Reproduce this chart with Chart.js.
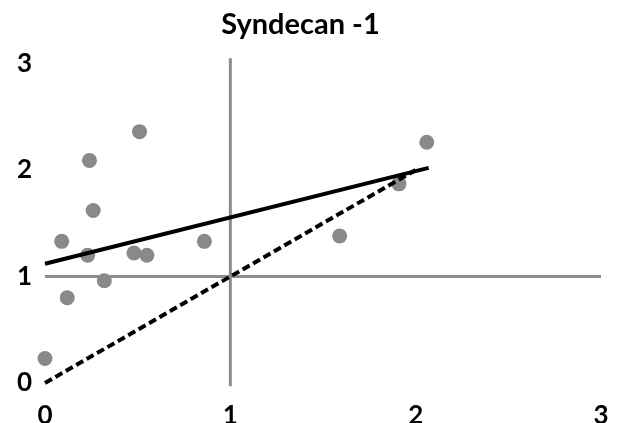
<!DOCTYPE html>
<html><head><meta charset="utf-8">
<script src="https://cdn.jsdelivr.net/npm/chart.js@4/dist/chart.umd.min.js"></script>
<style>html,body{margin:0;padding:0;background:#fff}#wrap{width:630px;height:423px}</style>
</head><body><div id="wrap"><canvas id="c"></canvas></div>
<script>
const title = "Syndecan -1";
const tickValues = [0, 1, 2, 3];
const pointsX = [0.00, 0.09, 0.12, 0.23, 0.24, 0.26, 0.32, 0.48, 0.51, 0.55, 0.86, 1.59, 1.91, 2.06];
const pointsY = [0.23, 1.33, 0.80, 1.20, 2.09, 1.62, 0.96, 1.22, 2.36, 1.20, 1.33, 1.38, 1.87, 2.26];
const fitX = [0.00, 2.07];
const fitY = [1.12, 2.02];
const identityX = [0.00, 2.00];
const identityY = [0.00, 2.00];
const vLineX = [1, 1];
const vLineY = [-0.03, 3.05];
const hLineX = [0, 3];
const hLineY = [1, 1];

const pts = (xs, ys) => xs.map((x, i) => ({x, y: ys[i]}));
const FONT = "Lato, 'Open Sans', sans-serif";

new Chart(document.getElementById('c'), {
  type: 'scatter',
  data: {
    datasets: [
      {data: pts(fitX, fitY), showLine: true, borderColor: '#000', borderWidth: 4, pointRadius: 0, clip: false},
      {data: pts(identityX, identityY), showLine: true, borderColor: '#000', borderWidth: 4, borderDash: [8, 4], pointRadius: 0, clip: false},
      {data: pts(pointsX, pointsY), backgroundColor: '#898989', borderColor: '#898989', pointRadius: 7.5, borderWidth: 0, clip: false},
      {data: pts(vLineX, vLineY), showLine: true, borderColor: '#8c8c8c', borderWidth: 3, pointRadius: 0, clip: false},
      {data: pts(hLineX, hLineY), showLine: true, borderColor: '#8c8c8c', borderWidth: 3, pointRadius: 0, clip: false}
    ]
  },
  options: {
    responsive: true, maintainAspectRatio: false, animation: false,
    layout: {padding: {left: 0, right: 29, top: 0, bottom: 0}},
    plugins: {
      legend: {display: false}, tooltip: {enabled: false},
      title: {display: true, text: title, color: '#000', font: {family: FONT, size: 29, weight: 'bold'}, padding: {top: 7, bottom: 21.7}}
    },
    scales: {
      x: {type: 'linear', min: 0, max: 3, grid: {display: false, drawTicks: false}, border: {display: false},
          afterFit: s => { s.height = 40; },
          ticks: {stepSize: 1, autoSkip: false, maxRotation: 0, padding: 17, color: '#000', font: {family: FONT, size: 26, weight: 'bold'},
                  callback: v => tickValues.includes(v) ? String(v) : ''}},
      y: {type: 'linear', min: 0, max: 3, grid: {display: false, drawTicks: false}, border: {display: false},
          afterFit: s => { s.width = 45; },
          ticks: {stepSize: 1, padding: 13, color: '#000', font: {family: FONT, size: 26, weight: 'bold'},
                  callback: v => tickValues.includes(v) ? String(v) : ''}}
    }
  }
});
</script></body></html>
